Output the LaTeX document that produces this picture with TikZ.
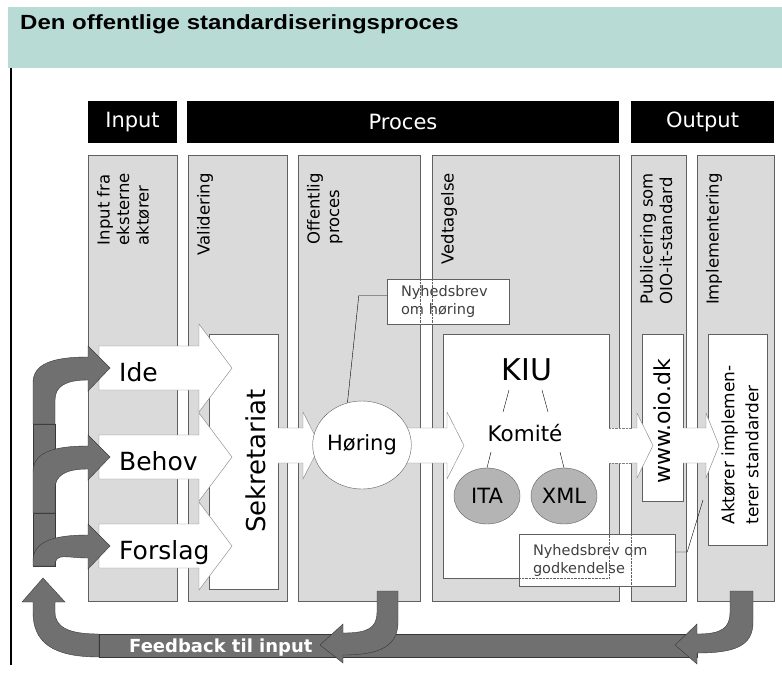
\documentclass[tikz,border=0pt]{standalone}
\usepackage{fontspec}
\setmainfont{DejaVu Sans}
\newfontfamily\titlefont[FakeStretch=1.17]{Liberation Sans}
\usetikzlibrary{%
    calc,
    positioning,
    shapes.geometric
}
\definecolor{bandgreen}{RGB}{184,220,213}
\definecolor{colfill}{RGB}{218,218,218}
\definecolor{coledge}{RGB}{96,96,96}
\definecolor{fbfill}{RGB}{112,112,112}
\definecolor{fbedge}{RGB}{55,55,55}
\definecolor{subfill}{RGB}{180,180,180}
\definecolor{notetext}{RGB}{64,64,64}

\begin{document}
\begin{tikzpicture}[x=1pt, y=-1pt,
    column/.style={draw=coledge, fill=colfill},
    header/.style={fill=black, text=white, inner sep=0pt,
                   font=\fontsize{21}{25}\selectfont},
    collabel/.style={rotate=90, anchor=north east, inner sep=0pt, align=left,
                     font=\fontsize{16.5}{19.5}\selectfont},
    whitebox/.style={draw=coledge, fill=white, inner sep=0pt},
    blockarrow/.style={draw=gray, fill=white},
    feedback/.style={draw=fbedge, fill=fbfill},
    callout/.style={draw=coledge, fill=white, text=notetext, align=left,
                    inner xsep=14pt, inner ysep=0pt,
                    font=\fontsize{14.5}{18}\selectfont},
    committee/.style={ellipse, draw=coledge, fill=subfill, inner sep=0pt,
                      minimum width=66pt, minimum height=56pt,
                      font=\fontsize{21}{25}\selectfont},
    ]
    \useasboundingbox (0,0) rectangle (782,673);
    \fill[white] (0,0) rectangle (782,673);

    % title band
    \fill[bandgreen] (8,7) rectangle (782,68);
    \node[anchor=base west, inner sep=0pt,
          font={\titlefont\bfseries\fontsize{20.5}{24}\selectfont}] (title)
          at (20,29) {Den offentlige standardiseringsproces};
    \draw[line width=2pt] (11,68) -- (11,665);

    % headers
    \node[header, minimum width=89pt, minimum height=42pt] (input) at (132.5,122) {Input};
    \node[header, minimum width=432pt, minimum height=42pt] (proces) at (403,122) {Proces};
    \node[header, minimum width=143pt, minimum height=42pt] (output) at (702.5,122) {Output};

    % columns
    \foreach \Left/\Right/\Name/\Text in {%
        88/177/inputcol/{Input fra\\eksterne\\aktører},
        188/287/validering/Validering,
        298/420/offentlig/{Offentlig\\proces},
        432/619/vedtagelse/Vedtagelse,
        631/686/publicering/{Publicering som\\OIO-it-standard},
        697/774/implementering/Implementering%
        }
    {
        \draw[column] (\Left,155) rectangle (\Right,601);
        \node[collabel] (\Name) at (\Left+9,173) {\Text};
    }

    % boxes
    \node[whitebox, minimum width=69pt, minimum height=255pt] (sekr) at (243.5,461.5) {};
    \node[rotate=90, font=\fontsize{26}{30}\selectfont] (sekrtext) at (256,461) {Sekretariat};
    \node[whitebox, minimum width=166pt, minimum height=244pt] (vedbox) at (526,456) {};
    \node[whitebox, minimum width=41pt, minimum height=167pt] (oiobox) at (662.5,417.5) {};
    \node[whitebox, minimum width=59pt, minimum height=211pt] (aktbox) at (737.5,439.5) {};

    % input arrows
    \foreach \Name/\Text/\Y in {ide/Ide/368, behov/Behov/457, forslag/Forslag/546}
    {
        \draw[blockarrow] (99,\Y-22) -- (199,\Y-22) -- (199,\Y-44) -- (232,\Y)
            -- (199,\Y+44) -- (199,\Y+22) -- (99,\Y+22) -- cycle;
        \node[anchor=base west, inner sep=0pt, font=\fontsize{25}{30}\selectfont]
            (\Name) at (119,\Y+13) {\Text};
    }

    % process arrows
    \draw[blockarrow] (278,428) -- (303,428) -- (303,412) -- (320,445.5)
        -- (303,479) -- (303,463) -- (278,463);
    \draw[blockarrow] (405,428) -- (447,428) -- (447,412) -- (464,445.5)
        -- (447,479) -- (447,463) -- (405,463);
    \fill[white] (609,428) rectangle (633,463);
    \draw[densely dotted, gray] (609,428) -- (632,428) (609,463) -- (632,463);
    \draw[blockarrow] (632,428) -- (637,428) -- (637,413) -- (653,445.5)
        -- (637,478) -- (637,463) -- (632,463);
    \draw[blockarrow] (683,428) -- (706,428) -- (706,413) -- (719,445.5)
        -- (706,478) -- (706,463) -- (683,463);

    \node[ellipse, draw=coledge, fill=white, inner sep=0pt,
          minimum width=95pt, minimum height=88pt,
          font=\fontsize{21}{25}\selectfont] (hoering) at (362,445) {Høring};

    % committee
    \node[inner sep=0pt, font=\fontsize{30}{36}\selectfont] (kiu) at (527,370) {KIU};
    \node[inner sep=0pt, font=\fontsize{21.5}{26}\selectfont] (komite) at (525,433) {Komité};
    \node[committee] (ita) at (487,496) {ITA};
    \node[committee] (xml) at (564,496) {XML};
    \draw ($(kiu)+(-18,20)$) -- ($(komite)+(-22,-21)$);
    \draw ($(kiu)+(15,20)$) -- ($(komite)+(23,-21)$);
    \draw ($(komite)+(-34,19)$) -- (ita.north);
    \draw ($(komite)+(35,19)$) -- (xml.north);

    % text in the upright boxes
    \node[rotate=90, font=\fontsize{22}{26}\selectfont] (oio) at (662,421) {www.oio.dk};
    \node[rotate=90, align=left, font=\fontsize{17}{24}\selectfont] (aktoerer)
        at (740,445) {Aktører implemen-\\terer standarder};

    % callouts
    \node[callout, text width=94pt, minimum height=45pt] (hoernote)
        at (448,301.5) {Nyhedsbrev\\om høring};
    \draw[densely dotted, coledge] (420,279) -- (420,324) (432,279) -- (432,324);
    \draw ([yshift=6pt]hoernote.west) -- ++(-28,0) -- (hoering.109);

    \node[callout, text width=128pt, minimum height=52pt] (godknote)
        at (597,560) {Nyhedsbrev om\\godkendelse};
    \draw[densely dotted, coledge] (519,578) -- (609,578) -- (609,534)
        (631,534) -- (631,586);
    \coordinate (aktpoint) at (703,500);
    \draw ([yshift=8pt]godknote.east) -- ++(12,0) -- (aktpoint);

    % feedback
    \draw[feedback] (33,424) rectangle (55,513);
    \draw[feedback] (33,513) rectangle (55,566);
    \foreach \C/\Bot/\In in {368/424/400, 457/513/489, 546/566/566}
        \draw[feedback] (33,\Bot) -- (33,\C+15) .. controls (33,\C-4) and (52,\C-11) .. (88,\C-11)
            -- (88,\C-22) -- (110,\C) -- (88,\C+23) -- (88,\C+12)
            .. controls (66,\C+12) and (55,\In-14) .. (55,\In) -- (55,\Bot) -- cycle;

    \draw[feedback] (99,634) -- (99,657) .. controls (52,657) and (33,642) .. (33,612)
        -- (33,602) -- (22,602) -- (43,578) -- (65,602) -- (55,602) -- (55,612)
        .. controls (55,628) and (70,634) .. (99,634) -- cycle;
    \draw[feedback] (99,634) rectangle (697,657);
    \node[anchor=base west, inner sep=0pt, text=white,
          font=\bfseries\fontsize{18}{22}\selectfont] (fbtext)
          at (129,652) {Feedback til input};

    \draw[feedback] (377,591) -- (398,591) -- (398,622) .. controls (398,646) and (380,655) .. (343,655)
        -- (343,663) -- (320,645) -- (343,624) -- (343,633)
        .. controls (368,633) and (377,628) .. (377,612) -- cycle;
    \draw[feedback] (730,591) -- (753,591) -- (753,622) .. controls (753,646) and (735,653) .. (697,653)
        -- (697,664) -- (675,645) -- (697,624) -- (697,634)
        .. controls (722,634) and (730,628) .. (730,612) -- cycle;
\end{tikzpicture}
\end{document}
